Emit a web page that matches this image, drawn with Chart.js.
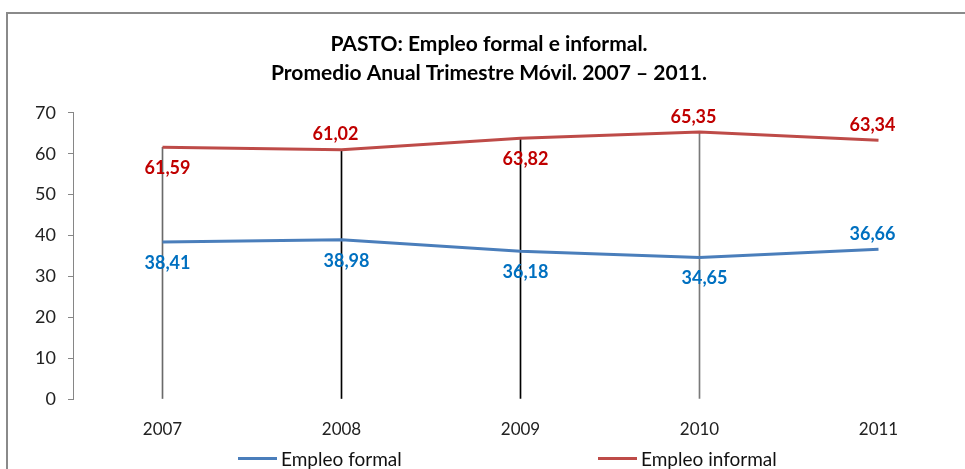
<!DOCTYPE html>
<html>
<head>
<meta charset="utf-8">
<script src="https://cdn.jsdelivr.net/npm/chart.js@4"></script>
<style>
  body { margin: 0; width: 965px; height: 469px; overflow: hidden; background: #fff; font-family: Lato, sans-serif; }
  #frame { position: absolute; left: 6px; top: 12px; width: 1000px; height: 500px; border: 2px solid #8a8a8a; }
  #wrap { position: absolute; left: 0; top: 0; width: 968px; height: 469px; }
  #legend { position: absolute; top: 447px; left: 0; width: 965px; height: 24px; font-size: 19px; color: #111; }
  .item { position: absolute; display: flex; align-items: center; }
  .swatch { width: 39px; height: 3px; margin-right: 4px; }
</style>
</head>
<body>
<div id="frame"></div>
<div id="wrap"><canvas id="chart"></canvas></div>
<div id="legend"></div>
<script>
const years = ['2007', '2008', '2009', '2010', '2011']
const formal = [38.41, 38.98, 36.18, 34.65, 36.66]
const informal = [61.59, 61.02, 63.82, 65.35, 63.34]
// vertical lines from 0 up to the informal series (none at 2011)
const dropLineTop = [61.59, 61.02, 63.82, 65.35, null]

const formalLabelPos = ['below', 'below', 'below', 'below', 'above']
const informalLabelPos = ['below', 'above', 'below', 'above', 'above']

const BLUE = '#4a7ebb'
const RED = '#be4b48'

const fmt = v => v.toFixed(2).replace('.', ',')

const valueLabels = {
  id: 'valueLabels',
  afterDatasetsDraw(chart) {
    const ctx = chart.ctx
    ctx.save()
    ctx.font = 'bold 18px Lato'
    ctx.textAlign = 'center'
    ctx.textBaseline = 'middle'
    chart.data.datasets.forEach((ds, di) => {
      if (!ds.labelPos) return
      const meta = chart.getDatasetMeta(di)
      ctx.fillStyle = ds.labelColor
      meta.data.forEach((pt, i) => {
        const below = ds.labelPos[i] === 'below'
        ctx.fillText(fmt(ds.data[i]), pt.x + (below ? 5 : -6), pt.y + (below ? 21 : -15))
      })
    })
    ctx.restore()
  }
}

const chart = new Chart(document.getElementById('chart'), {
  type: 'line',
  data: {
    labels: years,
    datasets: [
      {
        label: 'Empleo formal',
        data: formal,
        borderColor: BLUE,
        backgroundColor: BLUE,
        borderWidth: 3,
        pointRadius: 0,
        tension: 0,
        labelPos: formalLabelPos,
        labelColor: '#0070c0'
      },
      {
        label: 'Empleo informal',
        data: informal,
        borderColor: RED,
        backgroundColor: RED,
        borderWidth: 3,
        pointRadius: 0,
        tension: 0,
        labelPos: informalLabelPos,
        labelColor: '#c00000'
      },
      {
        type: 'bar',
        label: 'drop',
        data: dropLineTop,
        backgroundColor: ['#6a6a6a', '#000', '#000', '#7a7a7a', '#000'],
        barThickness: 1,
        order: 5
      }
    ]
  },
  options: {
    responsive: true,
    maintainAspectRatio: false,
    animation: false,
    layout: { padding: { top: 15, left: 10, right: 0, bottom: 0 } },
    plugins: {
      legend: { display: false },
      tooltip: { enabled: false },
      title: {
        display: true,
        text: ['PASTO: Empleo formal e informal.', 'Promedio Anual Trimestre Móvil. 2007 – 2011.'],
        color: '#000',
        font: { family: 'Lato', size: 21, weight: 'bold', lineHeight: 1.38 },
        padding: { top: 15, bottom: 25 }
      }
    },
    scales: {
      x: {
        offset: true,
        grid: { display: false, drawTicks: false },
        border: { display: false },
        ticks: { color: '#222', padding: 20, font: { family: 'Lato', size: 17 } },
        afterFit: s => { s.height = 70 }
      },
      y: {
        min: 0,
        max: 70,
        ticks: { stepSize: 10, color: '#222', padding: 12, font: { family: 'Lato', size: 18 } },
        grid: { drawOnChartArea: false, drawTicks: true, tickLength: 5, color: '#868686' },
        border: { display: true, color: '#868686' },
        afterFit: s => { s.width = 63 }
      }
    }
  },
  plugins: [valueLabels]
})

// legend
const legend = document.getElementById('legend')
const legendItems = [
  { text: 'Empleo formal', color: BLUE, left: 238 },
  { text: 'Empleo informal', color: RED, left: 598 }
]
legendItems.forEach(it => {
  const el = document.createElement('div')
  el.className = 'item'
  el.style.left = it.left + 'px'
  el.innerHTML = `<div class="swatch" style="background:${it.color}"></div><span>${it.text}</span>`
  legend.appendChild(el)
})
</script>
</body>
</html>
